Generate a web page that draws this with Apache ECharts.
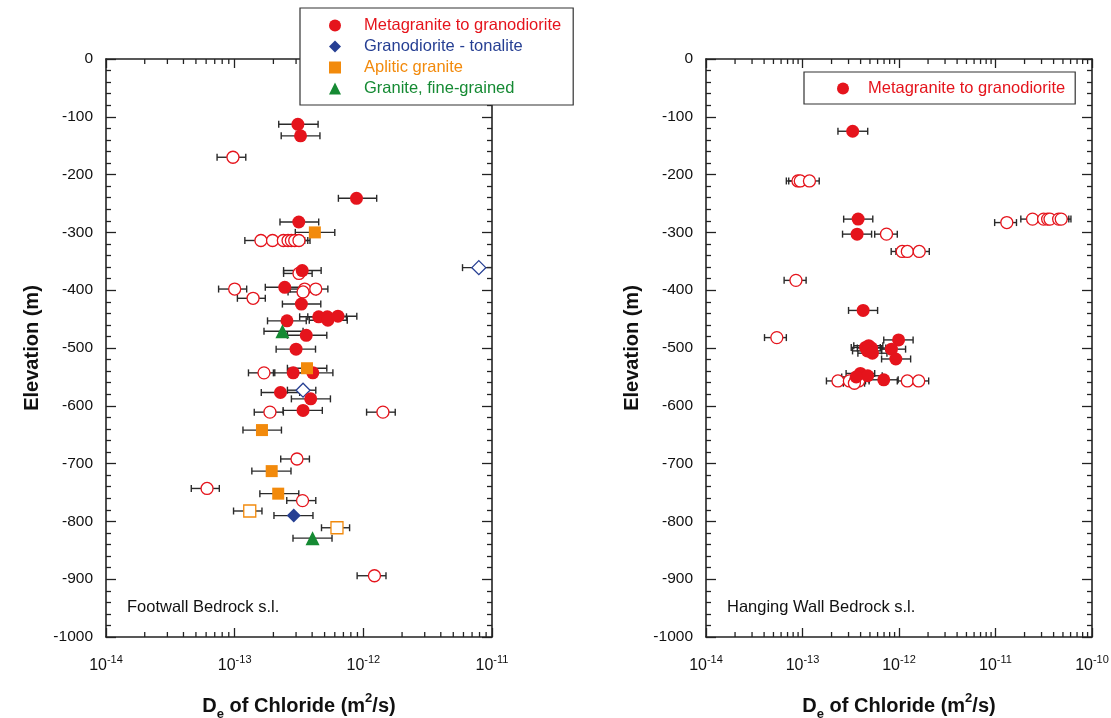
<!DOCTYPE html>
<html><head><meta charset="utf-8">
<script src="https://cdn.jsdelivr.net/npm/echarts@6/dist/echarts.min.js"></script>
<style>html,body{margin:0;padding:0;background:#fff}#c{width:1111px;height:718px}</style>
</head><body><div id="c"></div>
<script>
// Each row: [De of chloride (m2/s), elevation (m), error low, error high]
const fwMetaFilled = [
  [3.1e-13,-113,2.2e-13,4.45e-13],[3.25e-13,-133,2.3e-13,4.6e-13],[8.85e-13,-241,6.4e-13,1.27e-12],
  [3.15e-13,-282,2.25e-13,4.5e-13],[3.35e-13,-366,2.4e-13,4.7e-13],[2.45e-13,-395,1.73e-13,3.5e-13],
  [3.3e-13,-424,2.35e-13,4.67e-13],[4.5e-13,-446,3.2e-13,6.4e-13],[5.25e-13,-446,3.7e-13,7.4e-13],
  [5.3e-13,-452,3.8e-13,7.5e-13],[6.35e-13,-445,4.5e-13,8.9e-13],[2.55e-13,-453,1.8e-13,3.6e-13],
  [3.6e-13,-478,2.57e-13,5.2e-13],[3.0e-13,-502,2.1e-13,4.25e-13],[2.85e-13,-543,2.0e-13,4.0e-13],
  [4.05e-13,-543,2.9e-13,5.8e-13],[2.27e-13,-577,1.61e-13,3.2e-13],[3.9e-13,-588,2.76e-13,5.55e-13],
  [3.4e-13,-608,2.38e-13,4.8e-13]
];
const fwMetaOpen = [
  [9.7e-14,-170,7.3e-14,1.22e-13],[1.6e-13,-314,1.2e-13,2.05e-13],[1.97e-13,-314,1.52e-13,2.5e-13],
  [2.39e-13,-314,1.85e-13,3.05e-13],[2.6e-13,-314,2.0e-13,3.3e-13],[2.76e-13,-314,2.15e-13,3.5e-13],
  [2.93e-13,-314,2.27e-13,3.7e-13],[3.16e-13,-314,2.45e-13,3.85e-13],[3.16e-13,-371,2.4e-13,4.0e-13],
  [1.0e-13,-398,7.5e-14,1.24e-13],[3.5e-13,-398,2.7e-13,4.4e-13],[3.4e-13,-403,2.6e-13,4.3e-13],
  [4.27e-13,-398,3.3e-13,5.3e-13],[1.39e-13,-414,1.05e-13,1.73e-13],[1.69e-13,-543,1.28e-13,2.05e-13],
  [1.88e-13,-611,1.42e-13,2.39e-13],[1.42e-12,-611,1.06e-12,1.77e-12],[3.05e-13,-692,2.28e-13,3.81e-13],
  [6.1e-14,-743,4.6e-14,7.6e-14],[3.37e-13,-764,2.54e-13,4.27e-13],[1.22e-12,-894,8.95e-13,1.5e-12]
];
const fwGdtFilled = [[2.88e-13,-790,2.02e-13,4.06e-13]];
const fwGdtOpen = [[7.9e-12,-361,5.9e-12,1.05e-11],[3.4e-13,-573,2.57e-13,4.27e-13]];
const fwAplFilled = [
  [4.2e-13,-300,2.96e-13,6.0e-13],[3.65e-13,-535,2.57e-13,5.2e-13],[1.63e-13,-642,1.16e-13,2.31e-13],
  [1.94e-13,-713,1.36e-13,2.74e-13],[2.18e-13,-752,1.57e-13,3.15e-13]
];
const fwAplOpen = [[1.31e-13,-782,9.8e-14,1.63e-13],[6.24e-13,-811,4.73e-13,7.82e-13]];
const fwGfgFilled = [[2.35e-13,-471,1.69e-13,3.4e-13],[4.03e-13,-829,2.84e-13,5.71e-13]];

const hwMetaFilled = [
  [3.31e-13,-125,2.33e-13,4.74e-13],[3.77e-13,-277,2.67e-13,5.35e-13],[3.68e-13,-303,2.6e-13,5.2e-13],
  [4.25e-13,-435,3.0e-13,6.0e-13],[9.9e-13,-486,6.95e-13,1.4e-12],[4.5e-13,-499,3.2e-13,6.4e-13],
  [4.85e-13,-496,3.4e-13,6.8e-13],[5.2e-13,-500,3.7e-13,7.3e-13],[4.7e-13,-505,3.3e-13,6.6e-13],
  [5.3e-13,-509,3.75e-13,7.5e-13],[8.35e-13,-502,6.6e-13,1.17e-12],[9.27e-13,-519,6.6e-13,1.32e-12],
  [3.98e-13,-544,2.83e-13,5.6e-13],[4.74e-13,-548,3.35e-13,6.7e-13],[3.6e-13,-550,2.55e-13,5.1e-13],
  [6.95e-13,-555,4.9e-13,9.8e-13]
];
const hwMetaOpen = [
  [8.97e-14,-211,6.8e-14,1.13e-13],[9.48e-14,-211,7.2e-14,1.2e-13],[1.18e-13,-211,9.0e-14,1.49e-13],
  [7.42e-13,-303,5.6e-13,9.6e-13],[1.31e-11,-283,9.8e-12,1.65e-11],[2.42e-11,-277,1.83e-11,3.1e-11],
  [3.15e-11,-277,2.4e-11,4.0e-11],[3.47e-11,-277,2.65e-11,4.45e-11],[3.67e-11,-277,2.8e-11,4.7e-11],
  [4.51e-11,-277,3.45e-11,5.75e-11],[4.8e-11,-277,3.7e-11,6.05e-11],[1.08e-12,-333,8.3e-13,1.38e-12],
  [1.22e-12,-333,9.3e-13,1.56e-12],[1.62e-12,-333,1.25e-12,2.06e-12],[8.55e-14,-383,6.45e-14,1.09e-13],
  [5.42e-14,-482,4.04e-14,6.8e-14],[2.33e-13,-557,1.77e-13,2.98e-13],[3.06e-13,-557,2.35e-13,3.9e-13],
  [3.53e-13,-557,2.7e-13,4.5e-13],[3.82e-13,-557,2.9e-13,4.9e-13],[3.45e-13,-561,2.65e-13,4.4e-13],
  [1.22e-12,-557,9.6e-13,1.56e-12],[1.6e-12,-557,1.25e-12,2.03e-12]
];

const categories = ['Metagranite to granodiorite','Granodiorite - tonalite','Aplitic granite','Granite, fine-grained'];
const panelNames = ['Footwall Bedrock s.l.','Hanging Wall Bedrock s.l.'];
const xMinExp = -14, xMaxExp = [-11, -10];
const yMin = -1000, yMax = 0, yStep = 100;

const RED = '#e5141c', BLUE = '#263f93', ORANGE = '#f28a0c', GREEN = '#158a33';
const FONT = '"Liberation Sans", Arial, sans-serif';
const AX = '#222';

function minorTicks(maxExp) {
  const out = [];
  for (let e = xMinExp; e < maxExp; e++) for (let k = 2; k <= 9; k++) out.push([k * Math.pow(10, e), yMin]);
  return out;
}

function errRender(params, api) {
  const y = api.value(2);
  const a = api.coord([api.value(0), y]);
  const b = api.coord([api.value(1), y]);
  const h = 3.5;
  const style = { stroke: '#2a2a2a', lineWidth: 1.4 };
  return { type: 'group', children: [
    { type: 'line', shape: { x1: a[0], y1: a[1], x2: b[0], y2: b[1] }, style },
    { type: 'line', shape: { x1: a[0], y1: a[1] - h, x2: a[0], y2: a[1] + h }, style },
    { type: 'line', shape: { x1: b[0], y1: b[1] - h, x2: b[0], y2: b[1] + h }, style }
  ]};
}
function minorRender(params, api) {
  const p0 = api.coord([api.value(0), yMin]);
  const p1 = api.coord([api.value(0), yMax]);
  const L = 5;
  const style = { stroke: AX, lineWidth: 1.3 };
  return { type: 'group', children: [
    { type: 'line', shape: { x1: p0[0], y1: p0[1], x2: p0[0], y2: p0[1] - L }, style },
    { type: 'line', shape: { x1: p1[0], y1: p1[1], x2: p1[0], y2: p1[1] + L }, style }
  ]};
}

const xName = '{b|D}{s|e}{b| of Chloride (m}{p|2}{b|/s)}';
const xNameRich = {
  b: { fontSize: 20, fontWeight: 'bold', fontFamily: FONT, color: '#111', lineHeight: 24, verticalAlign: 'bottom' },
  s: { fontSize: 13, fontWeight: 'bold', fontFamily: FONT, color: '#111', lineHeight: 24, verticalAlign: 'bottom', padding: [0, 0, -5, 0] },
  p: { fontSize: 13, fontWeight: 'bold', fontFamily: FONT, color: '#111', lineHeight: 24, verticalAlign: 'top' }
};

function xAxes(grid, maxExp) {
  const common = {
    type: 'log', logBase: 10, gridIndex: grid, min: Math.pow(10, xMinExp), max: Math.pow(10, maxExp),
    axisLine: { show: true, onZero: false, lineStyle: { color: AX, width: 1.6 } },
    axisTick: { show: true, inside: true, length: 9, lineStyle: { color: AX, width: 1.3 } },
    splitLine: { show: false }, minorTick: { show: false }
  };
  return [
    Object.assign({}, common, {
      position: 'bottom',
      axisLabel: {
        margin: 17, color: '#111',
        formatter: v => '{b|10}{s|' + Math.round(Math.log10(v)) + '}',
        rich: {
          b: { fontSize: 16, fontFamily: FONT, color: '#111', lineHeight: 20, verticalAlign: 'bottom' },
          s: { fontSize: 11, fontFamily: FONT, color: '#111', lineHeight: 20, verticalAlign: 'top' }
        }
      },
      name: xName, nameLocation: 'middle', nameGap: 55,
      nameTextStyle: { rich: xNameRich }
    }),
    Object.assign({}, common, { position: 'top', axisLabel: { show: false } })
  ];
}
function yAxes(grid) {
  const common = {
    type: 'value', gridIndex: grid, min: yMin, max: yMax, interval: yStep,
    axisLine: { show: true, onZero: false, lineStyle: { color: AX, width: 1.6 } },
    axisTick: { show: true, inside: true, length: 10, lineStyle: { color: AX, width: 1.3 } },
    minorTick: { show: true, splitNumber: 5, length: 5, lineStyle: { color: AX, width: 1.3 } },
    splitLine: { show: false }
  };
  return [
    Object.assign({}, common, {
      position: 'left',
      axisLabel: { fontSize: 15.5, fontFamily: FONT, color: '#111', margin: 13, formatter: v => String(v) },
      name: 'Elevation (m)', nameLocation: 'middle', nameGap: 64,
      nameTextStyle: { fontSize: 20, fontWeight: 'bold', fontFamily: FONT, color: '#111' }
    }),
    Object.assign({}, common, { position: 'right', axisLabel: { show: false } })
  ];
}

function errData(arrs) {
  const out = [];
  arrs.forEach(a => a.forEach(r => out.push([r[2], r[3], r[1]])));
  return out;
}
function filledSeries(name, data, xi, yi, symbol, size, color) {
  return { type: 'scatter', name, xAxisIndex: xi, yAxisIndex: yi, symbol, symbolSize: size,
    data: data.map(r => [r[0], r[1]]), itemStyle: { color, opacity: 1 }, z: 5, silent: true };
}
function openSeries(name, data, xi, yi, symbol, size, color) {
  return { type: 'scatter', name, xAxisIndex: xi, yAxisIndex: yi, symbol, symbolSize: size,
    data: data.map(r => [r[0], r[1]]), itemStyle: { color: '#fff', borderColor: color, borderWidth: 1.3, opacity: 1 }, z: 4, silent: true };
}

const series = [
  { type: 'custom', name: 'errFW', xAxisIndex: 0, yAxisIndex: 0, renderItem: errRender, clip: true, z: 3, silent: true,
    encode: { x: [0, 1], y: 2 },
    data: errData([fwMetaFilled, fwMetaOpen, fwGdtFilled, fwGdtOpen, fwAplFilled, fwAplOpen, fwGfgFilled]) },
  { type: 'custom', name: 'errHW', xAxisIndex: 2, yAxisIndex: 2, renderItem: errRender, clip: true, z: 3, silent: true,
    encode: { x: [0, 1], y: 2 },
    data: errData([hwMetaFilled, hwMetaOpen]) },
  { type: 'custom', name: 'minorFW', xAxisIndex: 0, yAxisIndex: 0, renderItem: minorRender, silent: true, z: 1,
    encode: { x: 0, y: 1 }, data: minorTicks(xMaxExp[0]) },
  { type: 'custom', name: 'minorHW', xAxisIndex: 2, yAxisIndex: 2, renderItem: minorRender, silent: true, z: 1,
    encode: { x: 0, y: 1 }, data: minorTicks(xMaxExp[1]) },
  openSeries('fw open meta', fwMetaOpen, 0, 0, 'circle', 12, RED),
  openSeries('fw open gdt', fwGdtOpen, 0, 0, 'diamond', 14, BLUE),
  openSeries('fw open apl', fwAplOpen, 0, 0, 'rect', 12, ORANGE),
  filledSeries(categories[0], fwMetaFilled, 0, 0, 'circle', 13, RED),
  filledSeries(categories[1], fwGdtFilled, 0, 0, 'diamond', 14, BLUE),
  filledSeries(categories[2], fwAplFilled, 0, 0, 'rect', 12, ORANGE),
  filledSeries(categories[3], fwGfgFilled, 0, 0, 'triangle', 14, GREEN),
  openSeries('hw open meta', hwMetaOpen, 2, 2, 'circle', 12, RED),
  filledSeries(categories[0], hwMetaFilled, 2, 2, 'circle', 13, RED)
];

const legendColors = [RED, BLUE, ORANGE, GREEN];
const legendIcons = ['circle', 'diamond', 'rect', 'triangle'];

const option = {
  animation: false,
  backgroundColor: '#fff',
  grid: [
    { left: 106, top: 59, width: 386, height: 578, outerBoundsMode: 'none', containLabel: false },
    { left: 706, top: 59, width: 386, height: 578, outerBoundsMode: 'none', containLabel: false }
  ],
  xAxis: xAxes(0, xMaxExp[0]).concat(xAxes(1, xMaxExp[1])),
  yAxis: yAxes(0).concat(yAxes(1)),
  legend: [
    {
      orient: 'vertical', left: 300, top: 8, padding: [9, 12, 8, 29], itemGap: 4,
      itemWidth: 12, itemHeight: 12, selectedMode: false, z: 10,
      backgroundColor: '#fff', borderColor: '#333', borderWidth: 1.2,
      textStyle: { fontSize: 16.5, fontFamily: FONT, padding: [0, 0, 0, 18] },
      data: categories.map((c, i) => ({ name: c, icon: legendIcons[i], itemStyle: { color: legendColors[i] }, textStyle: { color: legendColors[i] } }))
    },
    {
      orient: 'vertical', left: 804, top: 72, padding: [8, 10, 7, 33], itemGap: 4,
      itemWidth: 12, itemHeight: 12, selectedMode: false, z: 10,
      backgroundColor: '#fff', borderColor: '#333', borderWidth: 1.2,
      textStyle: { fontSize: 16.5, fontFamily: FONT, padding: [0, 0, 0, 14] },
      data: [{ name: categories[0], icon: 'circle', itemStyle: { color: RED }, textStyle: { color: RED } }]
    }
  ],
  graphic: [
    { type: 'text', left: 127, top: 599, style: { text: panelNames[0], font: '16.5px ' + FONT, fill: '#111' } },
    { type: 'text', left: 727, top: 599, style: { text: panelNames[1], font: '16.5px ' + FONT, fill: '#111' } }
  ],
  series
};

const chart = echarts.init(document.getElementById('c'), null, { renderer: 'canvas' });
chart.setOption(option);
</script>
</body></html>
